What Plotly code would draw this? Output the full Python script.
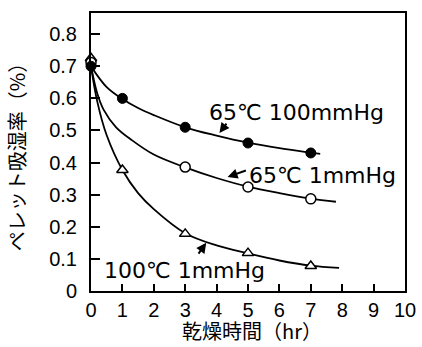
import plotly.graph_objects as go

# measured points
t_65_100 = [0, 1, 3, 5, 7]
v_65_100 = [0.70, 0.60, 0.51, 0.461, 0.430]
t_65_1 = [0, 3, 5, 7]
v_65_1 = [0.712, 0.386, 0.324, 0.287]
t_100_1 = [0, 1, 3, 5, 7]
v_100_1 = [0.725, 0.377, 0.178, 0.118, 0.078]

# fitted curves
cx_65_100 = [0, 0.5, 1, 1.5, 2, 3, 4, 5, 6, 7, 7.3]
cy_65_100 = [0.70, 0.635, 0.598, 0.570, 0.548, 0.510, 0.484, 0.462, 0.445, 0.431, 0.427]
cx_65_1 = [0, 0.2, 0.4, 0.8, 1.3, 2, 3, 4, 5, 6, 7, 7.8]
cy_65_1 = [0.70, 0.615, 0.565, 0.510, 0.470, 0.425, 0.385, 0.352, 0.325, 0.305, 0.288, 0.278]
cx_100_1 = [0, 0.2, 0.5, 1, 1.5, 2, 3, 4, 5, 6, 7, 7.9]
cy_100_1 = [0.70, 0.590, 0.485, 0.377, 0.305, 0.255, 0.180, 0.142, 0.117, 0.095, 0.079, 0.072]

x_ticks = list(range(0, 11))
y_ticks = [0, 0.1, 0.2, 0.3, 0.4, 0.5, 0.6, 0.7, 0.8]
y_tick_text = ["0", "0.1", "0.2", "0.3", "0.4", "0.5", "0.6", "0.7", "0.8"]

labels = ["65℃ 100mmHg", "65℃ 1mmHg", "100℃ 1mmHg"]
label_x = [6.53, 7.36, 2.98]
label_y = [0.557, 0.359, 0.063]
# arrows: head (x,y) and tail (ax,ay)
arrow_x = [4.09, 4.35, 3.67]
arrow_y = [0.492, 0.355, 0.150]
arrow_ax = [4.35, 4.98, 3.39]
arrow_ay = [0.526, 0.377, 0.112]

x_title = "乾燥時間（hr）"
y_title = "ペレット吸湿率（%）"

LAT = "Liberation Sans, Arial, Noto Sans CJK JP, sans-serif"
ANN = "DejaVu Sans, Noto Sans CJK JP, sans-serif"
CJK = "Noto Sans CJK JP, sans-serif"

fig = go.Figure()
line = dict(color="black", width=1.8, shape="spline", smoothing=1)
fig.add_trace(go.Scatter(x=cx_100_1, y=cy_100_1, mode="lines", line=line, hoverinfo="skip"))
fig.add_trace(go.Scatter(x=cx_65_1, y=cy_65_1, mode="lines", line=line, hoverinfo="skip"))
fig.add_trace(go.Scatter(x=cx_65_100, y=cy_65_100, mode="lines", line=line, hoverinfo="skip"))

fig.add_trace(go.Scatter(x=t_100_1, y=v_100_1, mode="markers", cliponaxis=False,
                         marker=dict(symbol="triangle-up", size=10, color="white",
                                     line=dict(color="black", width=1.5))))
fig.add_trace(go.Scatter(x=t_65_1, y=v_65_1, mode="markers", cliponaxis=False,
                         marker=dict(symbol="circle", size=10, color="white",
                                     line=dict(color="black", width=1.5))))
fig.add_trace(go.Scatter(x=t_65_100, y=v_65_100, mode="markers", cliponaxis=False,
                         marker=dict(symbol="circle", size=10, color="black",
                                     line=dict(color="black", width=1))))

for txt, lx, ly in zip(labels, label_x, label_y):
    fig.add_annotation(x=lx, y=ly, text=txt, showarrow=False, xanchor="center",
                       yanchor="middle", font=dict(family=ANN, size=22, color="black"))
for hx, hy, tx, ty in zip(arrow_x, arrow_y, arrow_ax, arrow_ay):
    fig.add_annotation(x=hx, y=hy, ax=tx, ay=ty, axref="x", ayref="y", text="",
                       showarrow=True, arrowhead=2, arrowsize=1, arrowwidth=2,
                       arrowcolor="black", standoff=0, startstandoff=0)

# x-axis title as a paper annotation below the tick labels
fig.add_annotation(x=0.513, y=-0.143, xref="paper", yref="paper", text=x_title,
                   showarrow=False, xanchor="center", yanchor="middle",
                   font=dict(family=CJK, size=20, color="black"))

fig.update_layout(
    template="none",
    width=422, height=347,
    margin=dict(l=91, r=17, t=13, b=56, autoexpand=False),
    paper_bgcolor="white", plot_bgcolor="white",
    showlegend=False,
    xaxis=dict(range=[0, 10], tickvals=x_ticks, ticks="inside", ticklen=7, tickwidth=2,
               tickcolor="black", showline=True, linecolor="black", linewidth=2,
               mirror=True, showgrid=False, zeroline=False, automargin=False,
               tickfont=dict(family=LAT, size=20, color="black"), ticklabelstandoff=0),
    yaxis=dict(range=[0, 0.866], tickvals=y_ticks, ticktext=y_tick_text, ticks="inside",
               ticklen=9, tickwidth=2, tickcolor="black", showline=True, linecolor="black",
               linewidth=2, mirror=True, showgrid=False, zeroline=False, automargin=False,
               tickfont=dict(family=LAT, size=20, color="black"), ticklabelstandoff=8,
               title=dict(text=y_title, font=dict(family=CJK, size=20, color="black"),
                          standoff=18)),
)

fig.write_html("out.html")
